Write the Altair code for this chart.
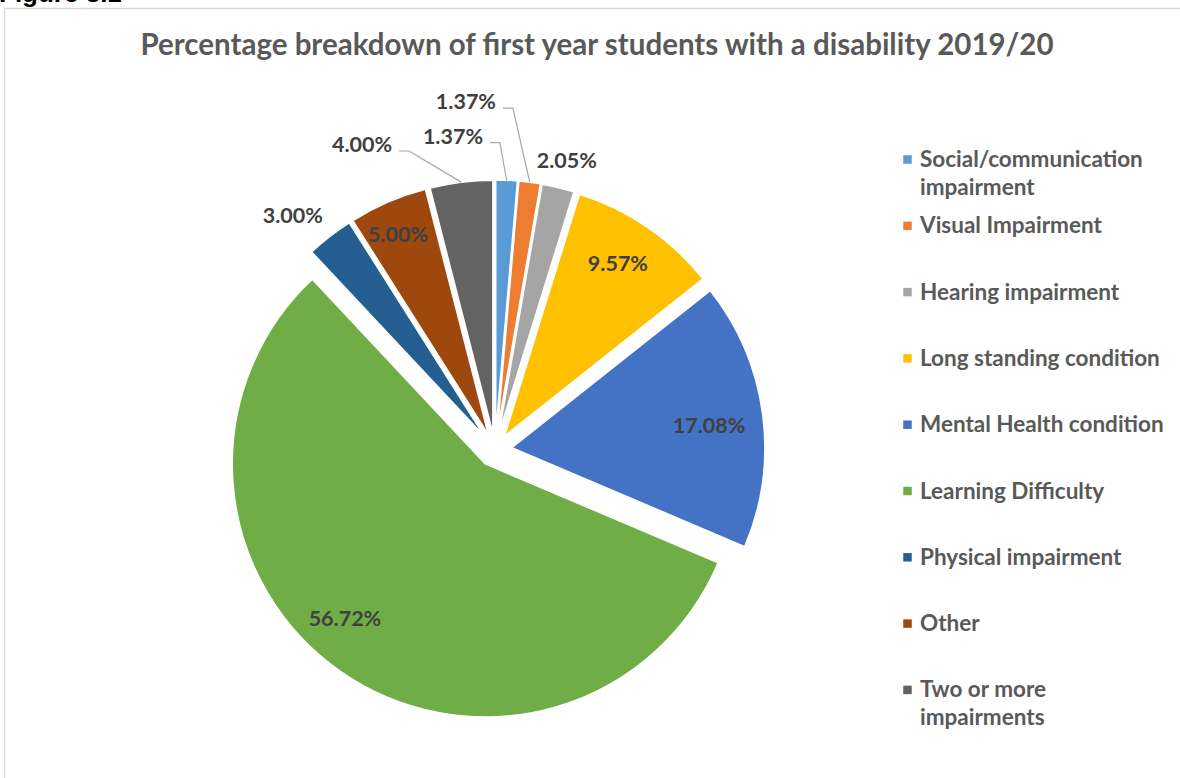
import altair as alt
import pandas as pd

# ---------------- data ----------------
categories = [
    "Social/communication impairment",
    "Visual Impairment",
    "Hearing impairment",
    "Long standing condition",
    "Mental Health condition",
    "Learning Difficulty",
    "Physical impairment",
    "Other",
    "Two or more impairments",
]
legend_labels = [
    "Social/communication\nimpairment",
    "Visual Impairment",
    "Hearing impairment",
    "Long standing condition",
    "Mental Health condition",
    "Learning Difficulty",
    "Physical impairment",
    "Other",
    "Two or more\nimpairments",
]
values = [1.37, 1.37, 2.05, 9.57, 17.08, 56.72, 3.00, 5.00, 4.00]

# ---------------- style / layout ----------------
colors = ["#5B9BD5", "#ED7D31", "#A5A5A5", "#FFC000", "#4472C4",
          "#70AD47", "#255E91", "#9E480E", "#636363"]
# data-label placement (fraction of radius from the slice centre, angular nudge in degrees)
label_radius = [1.18, 1.31, 1.106, 0.811, 0.784, 0.83, 1.152, 0.862, 1.247]
label_shift = [-10.7, -12.8, 0.5, -0.9, 1.7, 7.0, -3.4, -1.1, -17.3]
label_leader = [1, 1, 0, 0, 0, 0, 0, 0, 1]

W, H = 1180, 778
CX, CY = 495, 450      # pie centre
R = 253                # pie radius
D = 17                 # explosion distance
LEG_X, LEG_Y0, LEG_STEP = 907.5, 159.5, 66.3
FONT = "Lato"

df = pd.DataFrame({
    "category": categories,
    "legend": legend_labels,
    "value": values,
    "idx": list(range(len(categories))),
    "lrho": label_radius,
    "lshift": label_shift,
    "leader": label_leader,
})

color_scale = alt.Scale(domain=categories, range=colors)

base = alt.Chart(df).transform_joinaggregate(
    total="sum(value)"
).transform_window(
    cum="sum(value)", sort=[alt.SortField("idx")], frame=[None, 0]
).transform_calculate(
    a0="(datum.cum - datum.value) / datum.total * 2 * PI",
    a1="datum.cum / datum.total * 2 * PI",
).transform_calculate(
    mid="(datum.a0 + datum.a1) / 2",
).transform_calculate(
    cx=f"{CX} + {D} * sin(datum.mid)",
    cy=f"{CY} - {D} * cos(datum.mid)",
)

arcs = base.mark_arc(outerRadius=R, stroke="white", strokeWidth=1.5).encode(
    theta=alt.Theta("a0:Q", scale=None),
    theta2="a1:Q",
    x=alt.X("cx:Q", scale=None),
    y=alt.Y("cy:Q", scale=None),
    color=alt.Color("category:N", scale=color_scale, legend=None),
)

lab_base = base.transform_calculate(
    lang="datum.mid + datum.lshift * PI / 180",
).transform_calculate(
    lx=f"datum.cx + {R} * datum.lrho * sin(datum.lang)",
    ly=f"datum.cy - {R} * datum.lrho * cos(datum.lang)",
    txt="format(datum.value, '.2f') + '%'",
)

labels = lab_base.mark_text(
    font=FONT, fontWeight="bold", fontSize=21.5, color="#404040",
    align="center", baseline="middle",
).encode(
    x=alt.X("lx:Q", scale=None),
    y=alt.Y("ly:Q", scale=None),
    text="txt:N",
)

leaders = lab_base.transform_filter("datum.leader == 1").transform_calculate(
    ax="datum.lx + 37", ay="datum.ly + 5",
    ex=f"datum.cx + {R} * sin(datum.mid)",
    ey=f"datum.cy - {R} * cos(datum.mid)",
    k="[0, 1, 2]",
).transform_flatten(["k"]).transform_calculate(
    px="datum.k == 0 ? datum.ax : (datum.k == 1 ? datum.ax + 10 : datum.ex)",
    py="datum.k == 2 ? datum.ey : datum.ay",
).mark_line(color="#A6A6A6", strokeWidth=1.2).encode(
    x=alt.X("px:Q", scale=None),
    y=alt.Y("py:Q", scale=None),
    detail="category:N",
    order="k:Q",
)

leg_base = alt.Chart(df).transform_calculate(
    ly=f"{LEG_Y0} + datum.idx * {LEG_STEP}",
    ty=f"{LEG_Y0} + datum.idx * {LEG_STEP} + 7.5",
)
leg_sym = leg_base.mark_square(size=72, opacity=1).encode(
    x=alt.value(LEG_X),
    y=alt.Y("ly:Q", scale=None),
    color=alt.Color("category:N", scale=color_scale, legend=None),
)
leg_txt = leg_base.mark_text(
    font=FONT, fontWeight="bold", fontSize=22.5, color="#595959",
    align="left", baseline="alphabetic", lineBreak="\n", lineHeight=28,
).encode(
    x=alt.value(920),
    y=alt.Y("ty:Q", scale=None),
    text="legend:N",
)

title = alt.Chart(pd.DataFrame({"t": ["Percentage breakdown of first year students with a disability 2019/20"]})).mark_text(
    font=FONT, fontWeight="bold", fontSize=29.5, color="#595959",
    align="center", baseline="alphabetic",
).encode(x=alt.value(597), y=alt.value(55), text="t:N")

fig = alt.Chart(pd.DataFrame({"t": ["Figure 3.1"]})).mark_text(
    font="Liberation Sans", fontWeight="bold", fontSize=26, color="#000000",
    align="left", baseline="alphabetic",
).encode(x=alt.value(-1), y=alt.value(2), text="t:N")

frame = alt.Chart(pd.DataFrame({"a": [0]})).mark_rect(
    fill="white", stroke="#D9D9D9", strokeWidth=1.5,
).encode(x=alt.value(4.5), x2=alt.value(W + 20), y=alt.value(8.5), y2=alt.value(H + 20))

chart = alt.layer(frame, fig, arcs, leaders, labels, leg_sym, leg_txt, title).properties(
    width=W, height=H,
    autosize=alt.AutoSizeParams(type="none"),
    padding=0,
).configure_view(strokeWidth=0)

chart.save("out.html", embed_options={"renderer": "svg", "actions": False})
